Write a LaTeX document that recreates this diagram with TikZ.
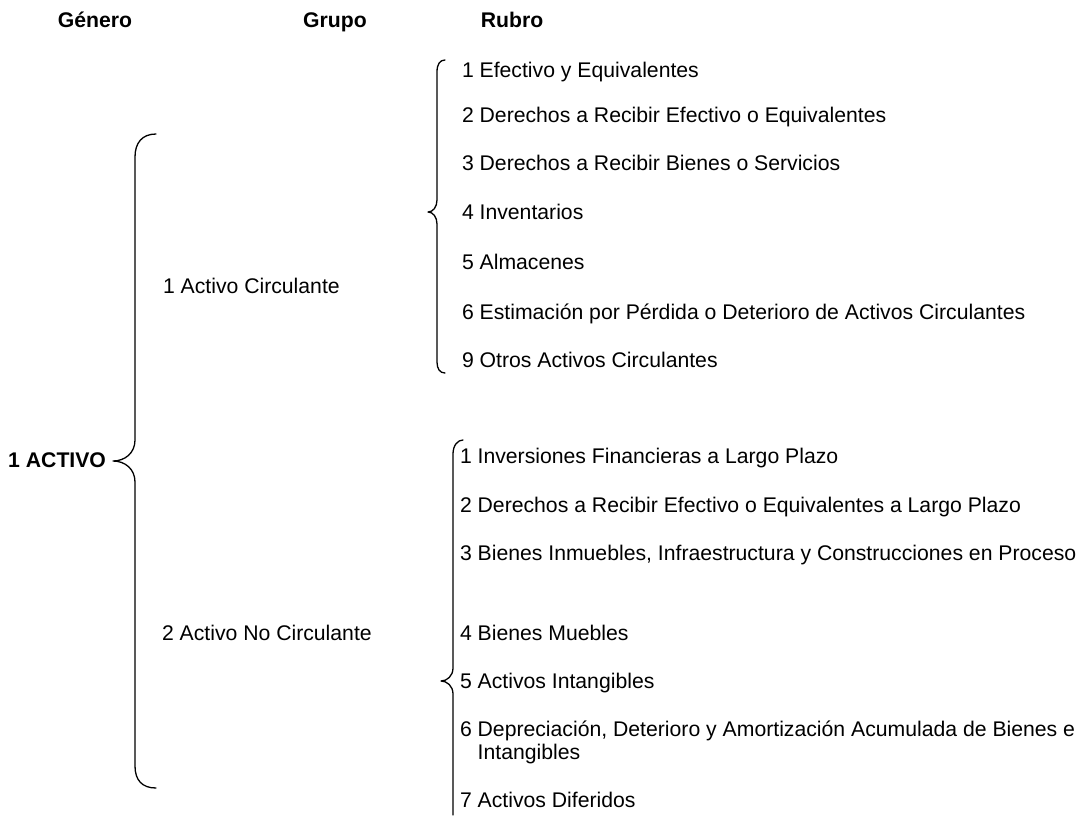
\documentclass[tikz,border=0pt]{standalone}
\usepackage{fontspec}
\setmainfont{Liberation Sans}
\begin{document}
\begin{tikzpicture}[x=1pt,y=-1pt,
  every node/.style={inner sep=0pt,outer sep=0pt,font=\fontsize{21.2}{26}\selectfont},
  lbl/.style={anchor=base west,yshift=-7.6pt},
  hdr/.style={anchor=base,yshift=-7.6pt,font=\fontsize{21.2}{26}\selectfont\bfseries},
  brace/.style={draw=black,line width=1.3pt,line cap=round,line join=round}]
\useasboundingbox (0,0) rectangle (1087,815);
% headers
\node[hdr] (hgen) at (95,20) {Género};
\node[hdr] (hgrp) at (335,20) {Grupo};
\node[hdr] (hrub) at (512,20) {Rubro};
% genero
\node[anchor=base east,yshift=-7.6pt,font=\fontsize{21.2}{26}\selectfont\bfseries] (activo) at (106,460) {1 ACTIVO};
% grupos
\node[lbl] (g1) at (163,286) {1 Activo Circulante};
\node[lbl] (g2) at (162,633) {2 Activo No Circulante};
% rubros circulante
\node[lbl] (r11) at (462,70) {1 Efectivo y Equivalentes};
\node[lbl] (r12) at (462,115) {2 Derechos a Recibir Efectivo o Equivalentes};
\node[lbl] (r13) at (462,163) {3 Derechos a Recibir Bienes o Servicios};
\node[lbl] (r14) at (462,212) {4 Inventarios};
\node[lbl] (r15) at (462,262) {5 Almacenes};
\node[lbl] (r16) at (462,312) {6 Estimación por Pérdida o Deterioro de Activos Circulantes};
\node[lbl] (r19) at (462,360) {9 Otros Activos Circulantes};
% rubros no circulante
\node[lbl] (r21) at (460,456) {1 Inversiones Financieras a Largo Plazo};
\node[lbl] (r22) at (460,505) {2 Derechos a Recibir Efectivo o Equivalentes a Largo Plazo};
\node[lbl] (r23) at (460,553) {3 Bienes Inmuebles, Infraestructura y Construcciones en Proceso};
\node[lbl] (r24) at (460,633) {4 Bienes Muebles};
\node[lbl] (r25) at (460,681) {5 Activos Intangibles};
\node[lbl] (r26) at (460,729) {6 Depreciación, Deterioro y Amortización Acumulada de Bienes e};
\node[lbl] (r26b) at (477.7,752) {Intangibles};
\node[lbl] (r27) at (460,800) {7 Activos Diferidos};
% big brace
\coordinate (b1tip) at (113,461);
\draw[brace] (156,134) .. controls (142,134) and (135,143) .. (135,157)
  -- (135,440) .. controls (135,453) and (125,461) .. (b1tip)
  .. controls (125,461) and (135,469) .. (135,482)
  -- (135,766) .. controls (135,780) and (142,788) .. (156,788);
% top-right brace
\coordinate (b2tip) at (428,212);
\draw[brace] (445,60) .. controls (440,60) and (437,64) .. (437,72)
  -- (437,200) .. controls (437,207) and (433,212) .. (b2tip)
  .. controls (433,212) and (437,217) .. (437,224)
  -- (437,362) .. controls (437,369) and (440,373) .. (445,373);
% bottom brace
\coordinate (b3tip) at (441,681);
\draw[brace] (463,440) .. controls (458,440) and (453,445) .. (453,454)
  -- (453,668) .. controls (453,676) and (447,681) .. (b3tip)
  .. controls (447,681) and (453,686) .. (453,694)
  -- (453,815);
\end{tikzpicture}
\end{document}
